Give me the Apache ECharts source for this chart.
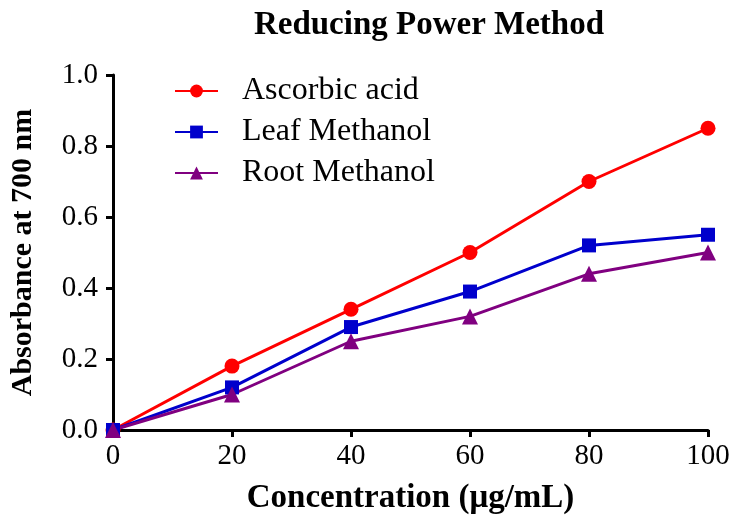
<!DOCTYPE html>
<html><head><meta charset="utf-8">
<script src="https://cdn.jsdelivr.net/npm/echarts@6/dist/echarts.min.js"></script>
<style>html,body{margin:0;padding:0;background:#fff}#c{width:736px;height:516px}</style>
</head><body><div id="c"></div>
<script>
const concentrations = [0, 20, 40, 60, 80, 100];
const ascorbicAcid = [0, 0.18, 0.34, 0.50, 0.70, 0.85];
const leafMethanol = [0, 0.12, 0.29, 0.39, 0.52, 0.55];
const rootMethanol = [0, 0.10, 0.25, 0.32, 0.44, 0.50];
const seriesNames = ['Ascorbic acid', 'Leaf Methanol', 'Root Methanol'];

const font = '"Liberation Serif", "Times New Roman", serif';
const pair = arr => concentrations.map((x, i) => [x, arr[i]]);
const chart = echarts.init(document.getElementById('c'));
function mk(name, data, color, symbol, size) {
  return {name, type: 'line', data: pair(data), symbol, symbolSize: size,
    lineStyle: {color, width: 3}, itemStyle: {color}, z: 3};
}
chart.setOption({
  animation: false,
  backgroundColor: '#fff',
  title: {text: 'Reducing Power Method', left: 424, textAlign: 'center', top: 4,
    textStyle: {fontFamily: font, fontWeight: 'bold', fontSize: 33, color: '#000'}},
  legend: {orient: 'vertical', left: 169, top: 70, itemWidth: 43, itemHeight: 16, itemGap: 9,
    textStyle: {fontFamily: font, fontSize: 32, color: '#000', padding: [0,0,0,19]},
    data: seriesNames},
  grid: {left: 113, right: 28, top: 75, bottom: 86, containLabel: false, outerBoundsMode: 'none'},
  xAxis: {type: 'value', min: 0, max: 100, interval: 20,
    name: 'Concentration (\u03bcg/mL)', nameLocation: 'middle', nameGap: 52,
    nameTextStyle: {fontFamily: font, fontWeight: 'bold', fontSize: 33, color: '#000'},
    axisLine: {lineStyle: {color: '#000', width: 3}},
    axisTick: {show: true, length: 7, lineStyle: {color: '#000', width: 3}},
    axisLabel: {fontFamily: font, fontSize: 29, color: '#000', margin: 12},
    splitLine: {show: false}},
  yAxis: {type: 'value', min: 0, max: 1.0, interval: 0.2,
    name: 'Absorbance at 700 nm', nameLocation: 'middle', nameGap: 75,
    nameTextStyle: {fontFamily: font, fontWeight: 'bold', fontSize: 30, color: '#000'},
    axisLine: {show: true, lineStyle: {color: '#000', width: 3}},
    axisTick: {show: true, length: 7, lineStyle: {color: '#000', width: 3}},
    axisLabel: {fontFamily: font, fontSize: 29, color: '#000', margin: 15,
      formatter: v => v.toFixed(1)},
    splitLine: {show: false}},
  series: [
    mk(seriesNames[0], ascorbicAcid, '#ff0000', 'circle', 15),
    mk(seriesNames[1], leafMethanol, '#0000cc', 'rect', 14),
    mk(seriesNames[2], rootMethanol, '#800080', 'triangle', 16)
  ]
});
</script></body></html>
